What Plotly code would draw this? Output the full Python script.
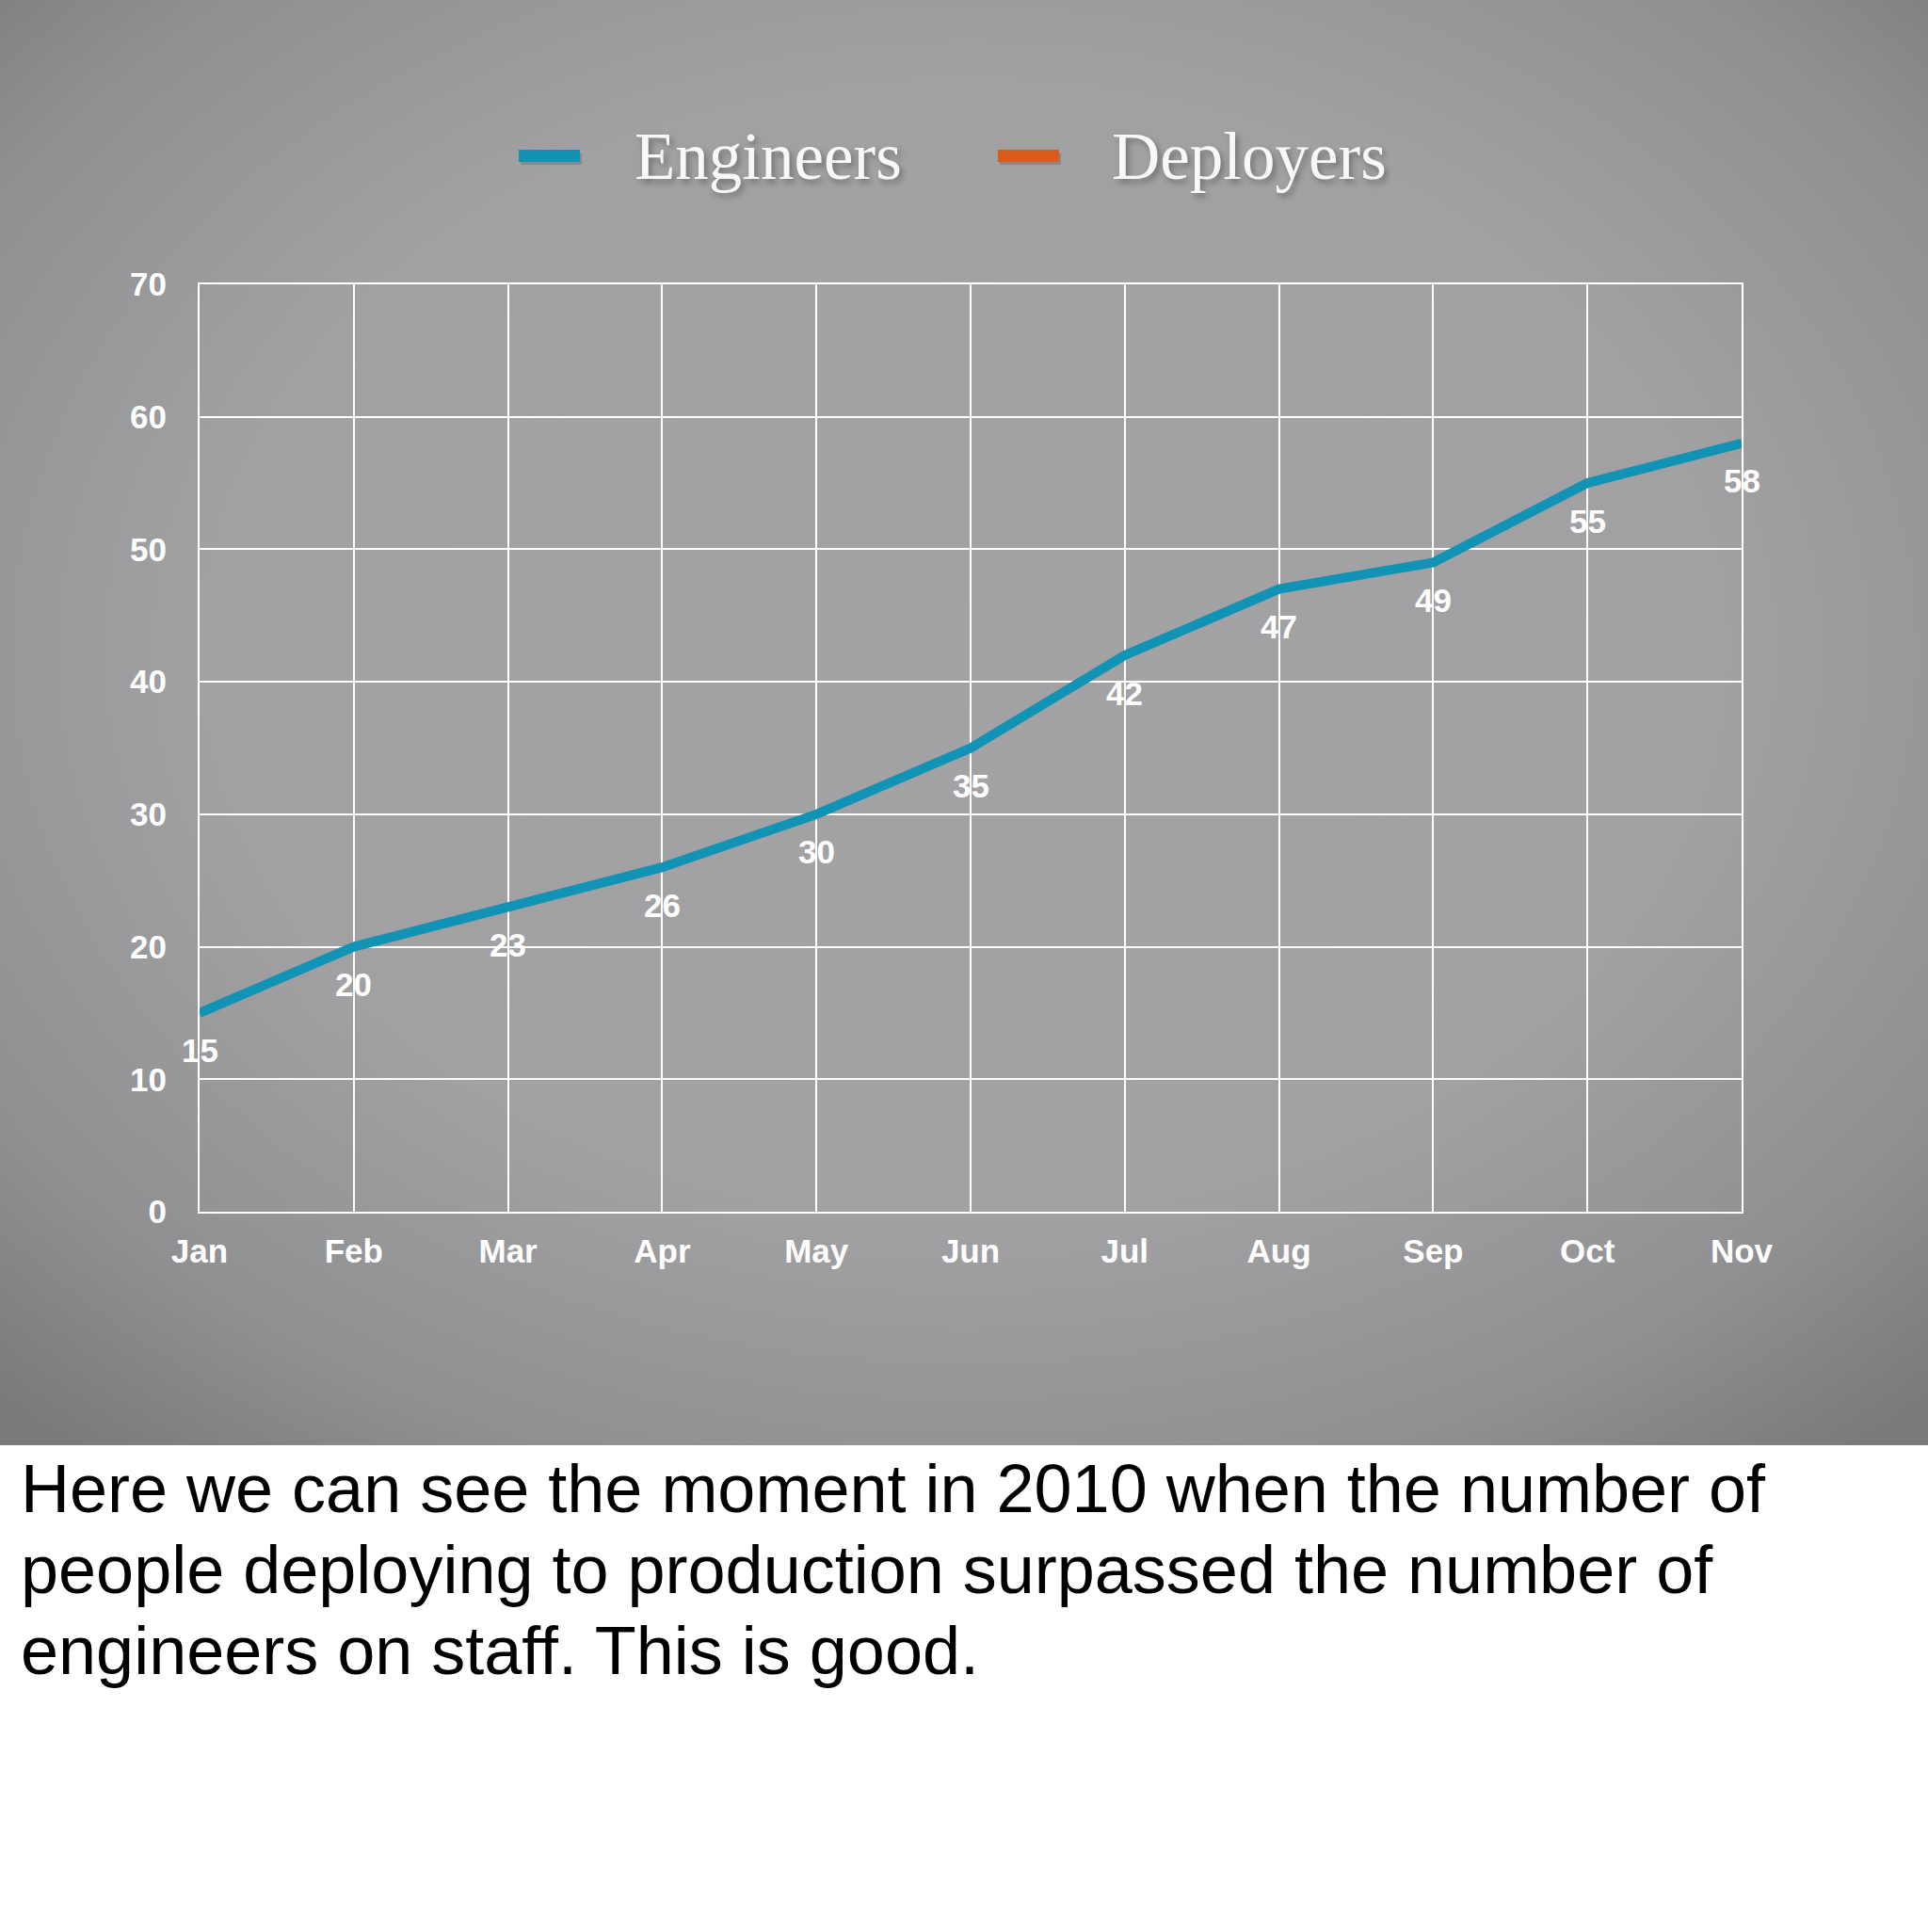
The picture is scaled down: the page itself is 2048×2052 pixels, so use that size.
import base64
import plotly.graph_objects as go

# chart data
months = ['Jan', 'Feb', 'Mar', 'Apr', 'May', 'Jun', 'Jul', 'Aug', 'Sep', 'Oct', 'Nov']
engineers = [15, 20, 23, 26, 30, 35, 42, 47, 49, 55, 58]
deployers = []  # no visible points in the slide
y_ticks = [0, 10, 20, 30, 40, 50, 60, 70]
series_names = ['Engineers', 'Deployers']
series_colors = ['#1193b5', '#dc5a1c']
caption_lines = [
    'Here we can see the moment in 2010 when the number of',
    'people deploying to production surpassed the number of',
    'engineers on staff. This is good.',
]

W, H = 2048, 2052
L, R, T, B = 212, 198, 302, 765
PW, PH = W - L - R, H - T - B


def px_x(x):
    return (x - L) / PW


def px_y(y):
    return (H - B - y) / PH


# vignette background for the slide part
slide_h = 1535
svg = f'''<svg xmlns="http://www.w3.org/2000/svg" width="{W}" height="{slide_h}" viewBox="0 0 {W} {slide_h}">
<defs><radialGradient id="g" cx="0.5" cy="0.45" r="0.72">
<stop offset="0" stop-color="#a3a2a4"/><stop offset="0.55" stop-color="#a1a0a2"/>
<stop offset="0.82" stop-color="#909092"/><stop offset="1" stop-color="#7a7a7a"/>
</radialGradient></defs>
<rect width="{W}" height="{slide_h}" fill="url(#g)"/></svg>'''
bg_src = 'data:image/svg+xml;base64,' + base64.b64encode(svg.encode()).decode()

fig = go.Figure()
fig.add_trace(go.Scatter(x=months, y=engineers, mode='lines', name=series_names[0],
                         line=dict(color=series_colors[0], width=10), showlegend=False))
fig.add_trace(go.Scatter(x=months[:len(deployers)], y=deployers, mode='lines', name=series_names[1],
                         line=dict(color=series_colors[1], width=10), showlegend=False))

# value labels under the points
for m, v in zip(months, engineers):
    fig.add_annotation(x=m, y=v, text=str(v), showarrow=False, yshift=-40,
                       font=dict(family='Liberation Sans', size=35, color='white', weight='bold'))

# legend drawn by hand (long thick swatches, big serif text)
legend_items = [(551, 672), (1060, 1179)]
for (sx, tx), name, col in zip(legend_items, series_names, series_colors):
    fig.add_shape(type='rect', xref='paper', yref='paper',
                  x0=px_x(sx + 2), x1=px_x(sx + 67), y0=px_y(163), y1=px_y(175),
                  fillcolor='rgba(0,0,0,0.15)', line_width=0)
    fig.add_shape(type='rect', xref='paper', yref='paper',
                  x0=px_x(sx), x1=px_x(sx + 65), y0=px_y(159), y1=px_y(172),
                  fillcolor=col, line_width=0)
    fig.add_annotation(xref='paper', yref='paper', x=px_x(tx), y=px_y(166),
                       xanchor='left', yanchor='middle', showarrow=False, text=name,
                       font=dict(family='Liberation Serif', size=71, color='#f8f8f8',
                                 shadow='3px 4px 6px rgba(0,0,0,0.3)'))

# caption under the slide
for i, line in enumerate(caption_lines):
    fig.add_annotation(xref='paper', yref='paper', x=px_x(20), y=px_y(1581 + 86 * i),
                       xanchor='left', yanchor='middle', showarrow=False, text=line,
                       font=dict(family='Liberation Sans', size=72, color='black'))

fig.add_layout_image(source=bg_src, xref='paper', yref='paper', x=px_x(0), y=px_y(0),
                     sizex=W / PW, sizey=slide_h / PH, sizing='stretch', layer='below',
                     xanchor='left', yanchor='top')

tick_font = dict(family='Liberation Sans', size=35, color='white', weight='bold')
fig.update_layout(
    width=W, height=H,
    margin=dict(l=L, r=R, t=T, b=B),
    paper_bgcolor='white',
    plot_bgcolor='rgba(0,0,0,0)',
    showlegend=False,
    xaxis=dict(type='category', range=[0, len(months) - 1], showgrid=True, gridcolor='white',
               gridwidth=2, showline=True, linecolor='white', linewidth=2, mirror=True,
               zeroline=False, tickfont=tick_font, ticks='', ticklabelstandoff=10),
    yaxis=dict(range=[0, 70], tickvals=y_ticks, showgrid=True, gridcolor='white', gridwidth=2,
               showline=True, linecolor='white', linewidth=2, mirror=True, zeroline=False,
               tickfont=tick_font, ticks='', ticklabelstandoff=26),
)

# the page's default body margin would shift the whole slide
fig.write_html('out.html', config={'displayModeBar': False},
               post_script="document.body.style.margin='0';")
